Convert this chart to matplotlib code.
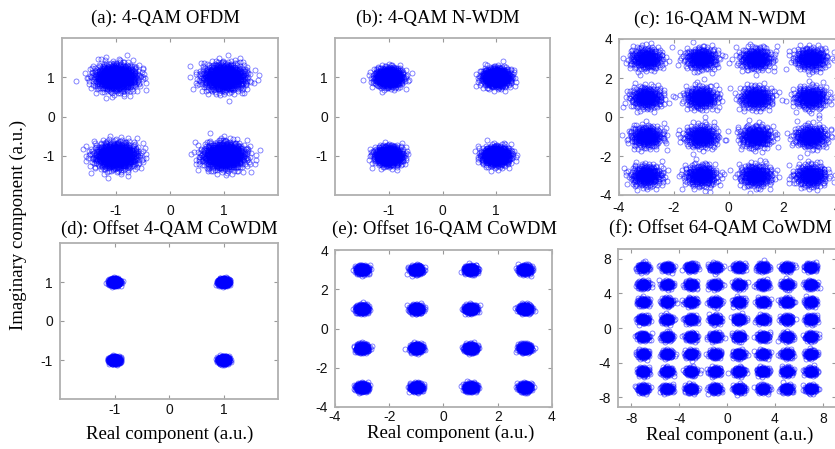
import numpy as np
import matplotlib.pyplot as plt

plt.rcParams['axes.unicode_minus'] = False

# constellation levels (real / imaginary), per panel
qam4_levels = [-1, 1]
qam16_levels = [-3, -1, 1, 3]
qam64_levels = [-7, -5, -3, -1, 1, 3, 5, 7]

titles = ['(a): 4-QAM OFDM', '(b): 4-QAM N-WDM', '(c): 16-QAM N-WDM',
          '(d): Offset 4-QAM CoWDM', '(e): Offset 16-QAM CoWDM',
          '(f): Offset 64-QAM CoWDM']
panel_levels = [qam4_levels, qam4_levels, qam16_levels,
                qam4_levels, qam16_levels, qam64_levels]
# cloud spread (std dev, real / imag) and points per cluster
spread_re = [0.20, 0.13, 0.30, 0.045, 0.11, 0.24]
spread_im = [0.17, 0.12, 0.28, 0.040, 0.10, 0.22]
points_per_cluster = [900, 700, 300, 700, 350, 130]

limits = [2, 2, 4, 2, 4, 9.1]
ticks = [[-1, 0, 1], [-1, 0, 1], [-4, -2, 0, 2, 4],
         [-1, 0, 1], [-4, -2, 0, 2, 4], [-8, -4, 0, 4, 8]]

# axes boxes in pixels: left, top, right, bottom (figure 835 x 449)
boxes = [(62, 38, 278, 195), (335, 38, 550, 195), (619, 39, 838, 195),
         (60, 243, 278, 399), (335, 250, 552, 407), (618, 249, 836, 407)]
title_pads = [10.8, 10.8, 10.8, 6.5, 11.3, 11.3]
title_loc = ['center', 'center', 'center', 'center', 'center', 'right']
title_x = [0.48, 0.48, 0.461, 0.5, 0.505, 0.982]
xtick_pads = [6.5, 6.5, 4, 3, 2.2, 3.5]

W, H = 835, 449


def halton(idx, base):
    out = np.zeros(len(idx))
    f = np.ones(len(idx))
    i = idx.copy()
    while np.any(i > 0):
        f = f / base
        out += f * (i % base)
        i = i // base
    return out


def cloud(center, sx, sy, n, start):
    # deterministic gaussian-like spread (halton + box-muller) around a symbol
    idx = np.arange(start + 1, start + n + 1)
    u1 = halton(idx, 2)
    u2 = halton(idx, 3)
    r = np.sqrt(-2 * np.log(1 - u1 * 0.9995))
    return center[0] + sx * r * np.cos(2 * np.pi * u2), center[1] + sy * r * np.sin(2 * np.pi * u2)


fig = plt.figure(figsize=(W / 100, H / 100), dpi=100)
serif = 'Liberation Serif'
sans = 'Liberation Sans'

for k in range(6):
    l, t, r, b = boxes[k]
    ax = fig.add_axes([l / W, 1 - b / H, (r - l) / W, (b - t) / H])
    lv = panel_levels[k]
    start = 0
    for yi in lv:
        for xi in lv:
            xs, ys = cloud((xi, yi), spread_re[k], spread_im[k], points_per_cluster[k], start)
            start += points_per_cluster[k] + 37
            ax.plot(xs, ys, 'o', mfc='none', mec='blue', ms=3.6, mew=0.6, alpha=0.55)
    lim = limits[k]
    ax.set_xlim(-lim, lim)
    ax.set_ylim(-lim, lim)
    ax.set_xticks(ticks[k])
    ax.set_yticks(ticks[k])
    ax.tick_params(direction='in', length=3, width=0.8, color='#999999',
                   top=True, right=True, labelsize=10, labelcolor='#111111')
    ax.tick_params(axis='x', pad=xtick_pads[k])
    ax.tick_params(axis='y', pad=5)
    for lab in ax.get_xticklabels() + ax.get_yticklabels():
        lab.set_fontfamily(sans)
    for s in ax.spines.values():
        s.set_color('#b0b0b0')
        s.set_linewidth(1.3)
    ax.set_title(titles[k], fontfamily=serif, fontsize=13.5, pad=title_pads[k],
                 loc=title_loc[k], x=title_x[k])

fig.text(18 / W, 1 - 225 / H, 'Imaginary component (a.u.)', rotation=90,
         ha='center', va='center', fontfamily=serif, fontsize=13.5)
for cx, cy in [(170, 434), (451, 433), (730, 435)]:
    fig.text(cx / W, 1 - cy / H, 'Real component (a.u.)', ha='center', va='center',
             fontfamily=serif, fontsize=13.5)

fig.savefig('out.png', dpi=100)
